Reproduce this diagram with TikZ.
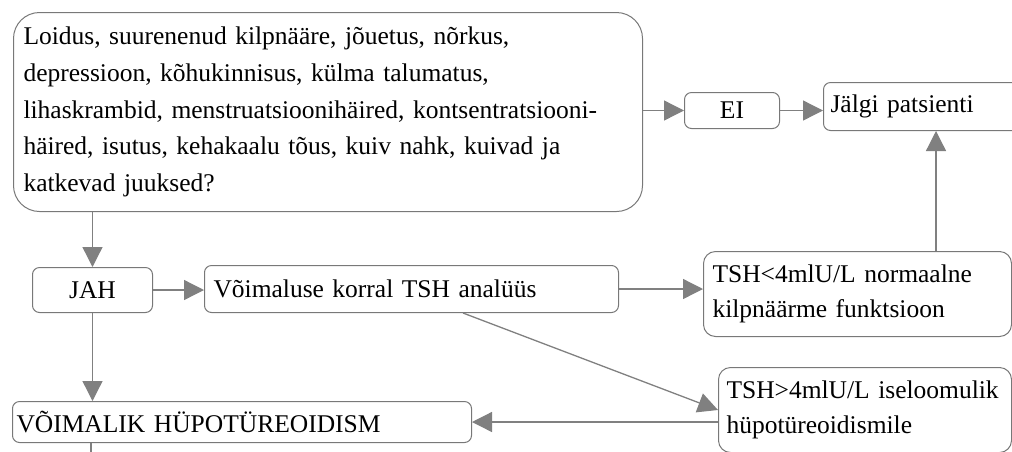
\documentclass[tikz,border=0pt]{standalone}
\usepackage{fontspec}
\setmainfont{Liberation Serif}
\usetikzlibrary{arrows.meta,calc}
\definecolor{linegray}{RGB}{128,128,128}
\definecolor{boxgray}{RGB}{120,120,120}
\tikzset{
  box/.style={draw=boxgray, line width=1pt, rounded corners=7pt, inner ysep=0pt,
    font=\fontsize{25.5}{35}\selectfont, anchor=north west},
  arr/.style={draw=linegray, line width=1.3pt, -{Triangle[length=20pt,width=20pt]}, shorten >=0pt},
  plain/.style={draw=linegray, line width=1.3pt},
}
\begin{document}
\begin{tikzpicture}[x=1pt,y=1pt]
\useasboundingbox (0,0) rectangle (1012,-451);
% boxes
\node[box, rounded corners=26pt, inner xsep=10pt, text width=609pt, minimum height=199pt, align=left,
  font=\fontsize{25.5}{36.75}\selectfont] (big) at (13,-12)
  {Loidus, suurenenud kilpnääre, jõuetus, nõrkus,\\
   depressioon, kõhukinnisus, külma talumatus,\\
   lihaskrambid, menstruatsioonihäired, kontsentratsiooni-\\
   häired, isutus, kehakaalu tõus, kuiv nahk, kuivad ja\\
   katkevad juuksed?};
\node[box, minimum width=95pt, minimum height=36pt, inner xsep=0pt] (ei) at (684,-92) {EI};
\node[box, inner xsep=7pt, text width=206pt, minimum height=48pt, align=left] (jalgi) at (823,-82) {Jälgi patsienti};
\node[box, minimum width=120pt, minimum height=45pt, inner xsep=0pt] (jah) at (32,-267) {JAH};
\node[box, inner xsep=9pt, text width=396pt, minimum height=47pt, align=left] (voim) at (204,-265) {Võimaluse korral TSH analüüs};
\node[box, rounded corners=12pt, inner xsep=9pt, text width=290pt, minimum height=85pt, align=left] (tshl) at (703,-251)
  {TSH<4mlU/L normaalne\\kilpnäärme funktsioon};
\node[box, rounded corners=12pt, inner xsep=8pt, text width=277pt, minimum height=85pt, align=left] (tshg) at (718,-367)
  {TSH>4mlU/L iseloomulik\\hüpotüreoidismile};
\node[box, inner xsep=4pt, text width=451pt, minimum height=41pt, align=left] (vm) at (12,-401) {VÕIMALIK HÜPOTÜREOIDISM};
\coordinate (vend) at (91,-470);
% connectors
\draw[arr] (big.south -| jah.north) -- (jah.north);
\draw[arr] (big.east |- ei.west) -- (ei.west);
\draw[arr] (ei.east) -- (ei.east -| jalgi.west);
\draw[arr] (jah.east) -- (jah.east -| voim.west);
\draw[arr] (voim.east) -- (voim.east -| tshl.west);
\draw[arr] ([xshift=233pt]tshl.north west) -- ([xshift=233pt]tshl.north west |- jalgi.south);
\draw[arr] ([xshift=259pt]voim.south west) -- ([yshift=-43pt]tshg.north west);
\draw[arr] (jah.south) -- (jah.south |- vm.north);
\draw[arr] (tshg.west |- vm.east) -- (vm.east);
\draw[plain] (vm.south -| vend) -- (vend);
\end{tikzpicture}
\end{document}
